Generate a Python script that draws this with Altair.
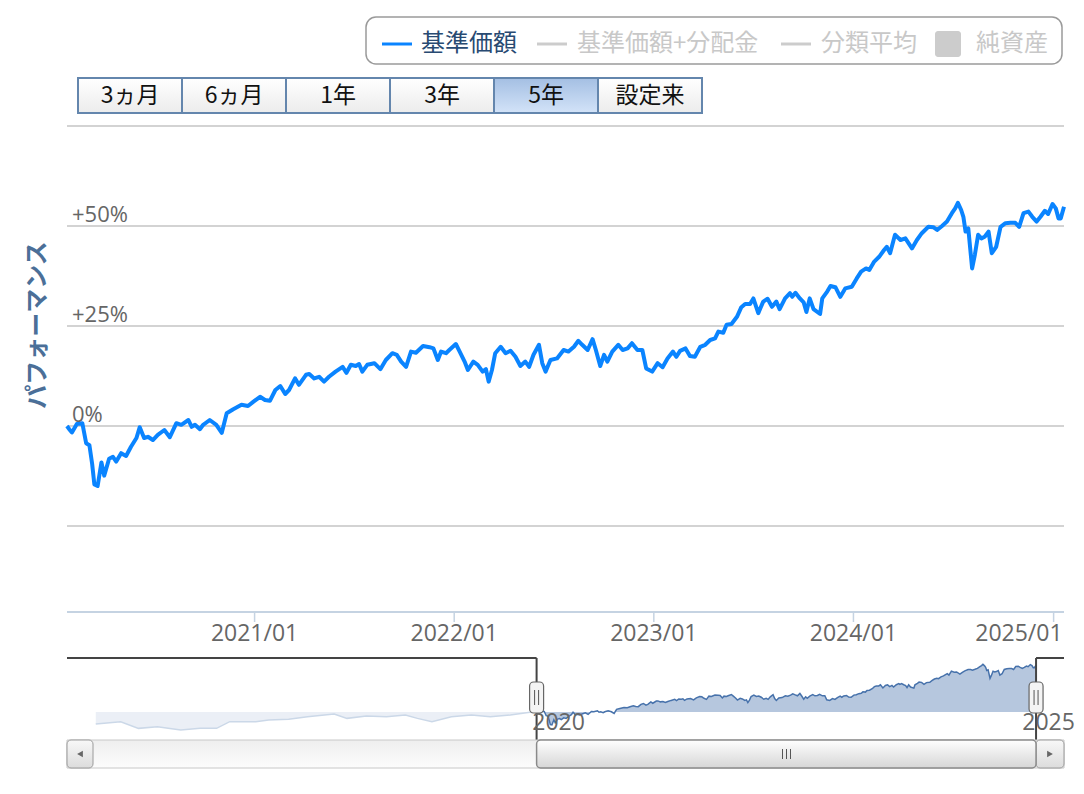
import altair as alt
import pandas as pd

# ---------------- data ----------------
main_dates = [
    "2020-01-24", "2020-01-28", "2020-02-02", "2020-02-11", "2020-02-21", "2020-02-28",
    "2020-03-05", "2020-03-10", "2020-03-14", "2020-03-20", "2020-03-27", "2020-04-01",
    "2020-04-10", "2020-04-17", "2020-04-23", "2020-05-02", "2020-05-11", "2020-05-20",
    "2020-05-30", "2020-06-05", "2020-06-13", "2020-06-20", "2020-06-29", "2020-07-08",
    "2020-07-20", "2020-07-30", "2020-08-11", "2020-08-20", "2020-09-02", "2020-09-08",
    "2020-09-14", "2020-09-23", "2020-09-29", "2020-10-11", "2020-10-23", "2020-11-02",
    "2020-11-11", "2020-11-23", "2020-12-08", "2020-12-20", "2020-12-30", "2021-01-11",
    "2021-01-20", "2021-01-29", "2021-02-08", "2021-02-17", "2021-02-26", "2021-03-05",
    "2021-03-16", "2021-03-23", "2021-04-05", "2021-04-11", "2021-04-20", "2021-04-29",
    "2021-05-08", "2021-05-17", "2021-05-29", "2021-06-11", "2021-06-18", "2021-06-26",
    "2021-07-05", "2021-07-11", "2021-07-17", "2021-07-26", "2021-08-08", "2021-08-19",
    "2021-08-29", "2021-09-10", "2021-09-18", "2021-09-26", "2021-10-05", "2021-10-14",
    "2021-10-23", "2021-11-05", "2021-11-17", "2021-11-24", "2021-12-02", "2021-12-08",
    "2021-12-17", "2021-12-23", "2022-01-04", "2022-01-11", "2022-01-20", "2022-01-26",
    "2022-02-05", "2022-02-13", "2022-02-22", "2022-02-28", "2022-03-05", "2022-03-11",
    "2022-03-17", "2022-03-27", "2022-04-05", "2022-04-14", "2022-04-23", "2022-05-02",
    "2022-05-11", "2022-05-18", "2022-05-26", "2022-06-05", "2022-06-11", "2022-06-17",
    "2022-06-26", "2022-07-08", "2022-07-20", "2022-07-29", "2022-08-08", "2022-08-16",
    "2022-08-23", "2022-09-02", "2022-09-11", "2022-09-17", "2022-09-25", "2022-10-02",
    "2022-10-08", "2022-10-17", "2022-10-28", "2022-11-05", "2022-11-14", "2022-11-22",
    "2022-12-02", "2022-12-11", "2022-12-18", "2022-12-29", "2023-01-08", "2023-01-17",
    "2023-01-26", "2023-02-05", "2023-02-11", "2023-02-18", "2023-02-28", "2023-03-08",
    "2023-03-17", "2023-03-27", "2023-04-05", "2023-04-14", "2023-04-23", "2023-04-29",
    "2023-05-08", "2023-05-14", "2023-05-23", "2023-06-02", "2023-06-10", "2023-06-17",
    "2023-06-26", "2023-07-02", "2023-07-11", "2023-07-20", "2023-07-28", "2023-08-05",
    "2023-08-13", "2023-08-19", "2023-08-29", "2023-09-07", "2023-09-11", "2023-09-17",
    "2023-09-25", "2023-10-02", "2023-10-07", "2023-10-13", "2023-10-20", "2023-11-01",
    "2023-11-05", "2023-11-14", "2023-11-20", "2023-11-29", "2023-12-08", "2023-12-17",
    "2023-12-29", "2024-01-07", "2024-01-15", "2024-01-24", "2024-01-30", "2024-02-08",
    "2024-02-17", "2024-02-26", "2024-03-02", "2024-03-08", "2024-03-17", "2024-03-27",
    "2024-04-05", "2024-04-17", "2024-04-26", "2024-05-05", "2024-05-17", "2024-05-26",
    "2024-06-02", "2024-06-11", "2024-06-20", "2024-06-29", "2024-07-05", "2024-07-10",
    "2024-07-16", "2024-07-20", "2024-07-24", "2024-07-29", "2024-08-05", "2024-08-10",
    "2024-08-16", "2024-08-22", "2024-08-28", "2024-09-04", "2024-09-10", "2024-09-18",
    "2024-09-26", "2024-10-05", "2024-10-14", "2024-10-23", "2024-10-30", "2024-11-07",
    "2024-11-16", "2024-11-23", "2024-12-01", "2024-12-08", "2024-12-16", "2024-12-22",
    "2024-12-30", "2025-01-05", "2025-01-10", "2025-01-14", "2025-01-20",
]
main_perf = [
    0.0, -0.8, -1.6, 0.5, 0.7, -4.3,
    -4.8, -9.5, -14.6, -15.0, -9.1, -12.4,
    -8.2, -7.7, -8.9, -6.8, -7.5, -5.2,
    -3.0, -0.3, -3.0, -2.7, -3.5, -2.2,
    -1.0, -2.8, 0.7, 0.3, 1.5, -0.2,
    0.3, -0.8, 0.3, 1.5, 0.3, -1.7,
    3.2, 4.2, 5.3, 5.0, 6.1, 7.3,
    6.5, 6.3, 9.0, 10.0, 8.0, 9.0,
    11.9, 10.3, 12.8, 13.0, 11.9, 12.3,
    11.1, 12.3, 13.6, 14.8, 13.3, 15.3,
    15.0, 15.5, 13.6, 15.3, 15.7, 14.2,
    16.5, 18.2, 17.8, 16.1, 14.8, 18.6,
    18.3, 20.0, 19.7, 19.4, 16.5, 18.6,
    18.2, 19.0, 20.5, 18.6, 16.1, 14.0,
    16.1, 15.3, 13.6, 14.2, 11.1, 14.0,
    18.2, 19.8, 18.2, 18.8, 17.3, 15.0,
    16.1, 14.8, 17.8, 20.3, 15.7, 13.6,
    16.5, 16.9, 19.0, 18.6, 19.8, 21.3,
    20.3, 19.0, 21.7, 19.0, 15.0, 17.8,
    16.1, 18.6, 20.3, 19.0, 19.4, 20.7,
    19.0, 19.0, 14.4, 13.6, 15.7, 14.7,
    16.9, 18.6, 17.3, 18.8, 19.4, 17.5,
    17.3, 19.8, 20.3, 21.5, 21.9, 23.6,
    23.3, 25.3, 25.5, 27.3, 29.7, 30.5,
    30.5, 31.9, 28.2, 31.1, 31.8, 29.8,
    31.1, 29.2, 31.9, 33.2, 32.3, 33.3,
    31.9, 30.9, 28.5, 31.9, 29.2, 28.0,
    31.9, 33.6, 35.0, 34.7, 32.3, 34.4,
    34.8, 36.9, 38.6, 39.4, 39.0, 41.1,
    42.3, 44.0, 44.8, 43.2, 47.8, 46.5,
    46.9, 44.4, 46.5, 48.2, 49.8, 49.7,
    49.0, 50.0, 51.1, 53.2, 54.4, 55.8,
    54.0, 52.3, 48.6, 49.4, 39.4, 42.8,
    47.8, 46.9, 47.3, 48.6, 43.2, 44.8,
    49.8, 50.7, 50.8, 50.8, 49.8, 53.2,
    53.6, 52.3, 51.1, 52.3, 53.8, 53.0,
    55.5, 54.4, 51.9, 51.9, 54.8,
]

# navigator history before the selected 5-year window (same % basis)
hist_dates = [
    "2015-08-29", "2015-11-28", "2016-02-01", "2016-04-10", "2016-07-04", "2016-09-13",
    "2016-11-12", "2016-12-30", "2017-04-04", "2017-05-21", "2017-08-02", "2017-10-10",
    "2018-01-15", "2018-03-03", "2018-05-13", "2018-07-25", "2018-10-02", "2018-11-15",
    "2019-01-07", "2019-03-19", "2019-05-31", "2019-08-08", "2019-10-20", "2020-01-13",
]
hist_perf = [
    -14.0, -11.3, -19.1, -17.2, -21.1, -19.1,
    -19.1, -11.3, -11.3, -9.4, -8.5, -5.5,
    -2.3, -7.4, -4.7, -5.5, -3.5, -7.4,
    -11.3, -5.5, -3.5, -5.5, -3.5, 0.4,
]

grid_levels = [75, 50, 25, 0, -25]
y_label_levels = [50, 25, 0]
y_label_texts = ["+50%", "+25%", "0%"]
x_tick_dates = ["2021-01-01", "2022-01-01", "2023-01-01", "2024-01-01", "2025-01-01"]
x_tick_texts = ["2021/01", "2022/01", "2023/01", "2024/01", "2025/01"]
nav_tick_dates = ["2020-01-01", "2025-01-01"]
nav_tick_texts = ["2020", "2025"]
legend_names = ["基準価額", "基準価額+分配金", "分類平均", "純資産"]
button_names = ["3ヵ月", "6ヵ月", "1年", "3年", "5年", "設定来"]
selected_button = "5年"
window_start, window_end = "2020-01-24", "2025-01-20"
nav_start, nav_end = "2015-05-16", "2025-05-02"
y_title = "パフォーマンス"

# ---------------- layout / style ----------------
W, H = 1068, 778
JP = "Noto Sans CJK JP"
LAT = "Open Sans"
BLUE = "#0a84ff"


def dt(s):
    y, m, d = (int(v) for v in s.split("-"))
    return alt.DateTime(year=y, month=m, date=d)


X_MAIN = alt.Scale(domain=[dt(window_start), dt(window_end)], range=[59, 1056], nice=False)
Y_MAIN = alt.Scale(domain=[-46.5, 75], range=[604, 118], nice=False, zero=False)
X_NAV = alt.Scale(domain=[dt(nav_start), dt(nav_end)], range=[59, 1056], nice=False)
Y_NAV = alt.Scale(domain=[-32.7, 63.2], range=[732, 650], nice=False, zero=False)

one = pd.DataFrame({"k": [0]})
main_df = pd.DataFrame({"date": main_dates, "perf": main_perf})
nav_df = pd.DataFrame({"date": hist_dates + main_dates, "perf": hist_perf + main_perf})


def grad(c0, c1):
    return alt.LinearGradient(
        gradient="linear", x1=0, x2=0, y1=0, y2=1,
        stops=[alt.GradientStop(color=c0, offset=0), alt.GradientStop(color=c1, offset=1)],
    )


layers = []

# ---- legend box ----
layers.append(
    alt.Chart(one).mark_rect(cornerRadius=10, fill="white", stroke="#9a9a9a", strokeWidth=1.5)
    .encode(x=alt.value(358), x2=alt.value(1054), y=alt.value(9), y2=alt.value(56))
)
leg_x0 = [374, 529, 773, 927]
leg_df = pd.DataFrame({
    "label": legend_names,
    "x0": leg_x0,
    "x1": [v + 30 for v in leg_x0],
    "tx": [413, 569, 813, 968],
    "sym": ["#0a84ff", "#cccccc", "#cccccc", "#cccccc"],
    "tc": ["#284a72", "#c8c8c8", "#c8c8c8", "#c8c8c8"],
    "kind": ["line", "line", "line", "box"],
})
layers.append(
    alt.Chart(leg_df).transform_filter("datum.kind == 'line'").mark_rule(strokeWidth=3)
    .encode(x=alt.X("x0:Q", scale=None, axis=None), x2="x1:Q", y=alt.value(36),
            color=alt.Color("sym:N", scale=None))
)
layers.append(
    alt.Chart(leg_df).transform_filter("datum.kind == 'box'").mark_rect(cornerRadius=3, fill="#cccccc")
    .encode(x=alt.X("x0:Q", scale=None, axis=None), x2=alt.value(953), y=alt.value(23), y2=alt.value(49))
)
layers.append(
    alt.Chart(leg_df).mark_text(align="left", baseline="middle", fontSize=24, font=JP)
    .encode(x=alt.X("tx:Q", scale=None, axis=None), y=alt.value(36), text="label:N",
            color=alt.Color("tc:N", scale=None))
)

# ---- range buttons ----
btn_df = pd.DataFrame({
    "label": button_names,
    "x0": [70 + 104 * i for i in range(len(button_names))],
    "x1": [174 + 104 * i for i in range(len(button_names))],
    "xc": [122 + 104 * i for i in range(len(button_names))],
    "sel": [n == selected_button for n in button_names],
})
layers.append(
    alt.Chart(btn_df).transform_filter("!datum.sel")
    .mark_rect(fill=grad("#ffffff", "#ececec"), stroke="#6486ad", strokeWidth=2)
    .encode(x=alt.X("x0:Q", scale=None, axis=None), x2="x1:Q", y=alt.value(70), y2=alt.value(105))
)
layers.append(
    alt.Chart(btn_df).transform_filter("datum.sel")
    .mark_rect(fill=grad("#a4bfe3", "#d3e3f8"), stroke="#6486ad", strokeWidth=2)
    .encode(x=alt.X("x0:Q", scale=None, axis=None), x2="x1:Q", y=alt.value(70), y2=alt.value(105))
)
layers.append(
    alt.Chart(btn_df).mark_text(align="center", baseline="middle", fontSize=23, font=JP, color="#111111")
    .encode(x=alt.X("xc:Q", scale=None, axis=None), y=alt.value(88), text="label:N")
)

# ---- main plot ----
layers.append(
    alt.Chart(pd.DataFrame({"v": grid_levels})).mark_rule(color="#c4c4c4", strokeWidth=1.5)
    .encode(y=alt.Y("v:Q", scale=Y_MAIN, axis=None), x=alt.value(59), x2=alt.value(1056))
)
layers.append(
    alt.Chart(one).mark_rule(color="#c5d3e2", strokeWidth=2)
    .encode(x=alt.value(59), x2=alt.value(1056), y=alt.value(604))
)
layers.append(
    alt.Chart(pd.DataFrame({"d": x_tick_dates})).mark_rule(color="#c5d3e2", strokeWidth=1.5)
    .encode(x=alt.X("d:T", scale=X_MAIN, axis=None), y=alt.value(604), y2=alt.value(614))
)
xlab_df = pd.DataFrame({"d": x_tick_dates, "t": x_tick_texts,
                        "last": [i == len(x_tick_dates) - 1 for i in range(len(x_tick_dates))]})
layers.append(
    alt.Chart(xlab_df).transform_filter("!datum.last")
    .mark_text(align="center", baseline="alphabetic", fontSize=23, font=LAT, color="#666666")
    .encode(x=alt.X("d:T", scale=X_MAIN, axis=None), y=alt.value(633), text="t:N")
)
layers.append(
    alt.Chart(xlab_df).transform_filter("datum.last")
    .mark_text(align="right", baseline="alphabetic", dx=9, fontSize=23, font=LAT, color="#666666")
    .encode(x=alt.X("d:T", scale=X_MAIN, axis=None), y=alt.value(633), text="t:N")
)
layers.append(
    alt.Chart(main_df).mark_line(color=BLUE, strokeWidth=4, strokeJoin="round")
    .encode(x=alt.X("date:T", scale=X_MAIN, axis=None), y=alt.Y("perf:Q", scale=Y_MAIN, axis=None))
)
layers.append(
    alt.Chart(pd.DataFrame({"v": y_label_levels, "t": y_label_texts}))
    .mark_text(align="left", baseline="alphabetic", dy=-4, fontSize=22, font=LAT, color="#666666")
    .encode(x=alt.value(64), y=alt.Y("v:Q", scale=Y_MAIN, axis=None), text="t:N")
)
layers.append(
    alt.Chart(one).mark_text(angle=270, align="center", baseline="middle", fontSize=24,
                             fontWeight="bold", font=JP, color="#4b6f98")
    .encode(x=alt.value(30), y=alt.value(317), text=alt.value(y_title))
)

# ---- navigator ----
layers.append(
    alt.Chart(nav_df).mark_area(color="#b6c7de")
    .encode(x=alt.X("date:T", scale=X_NAV, axis=None), y=alt.Y("perf:Q", scale=Y_NAV, axis=None),
            y2=alt.value(732))
)
layers.append(
    alt.Chart(nav_df).mark_line(color="#4772ab", strokeWidth=1.5)
    .encode(x=alt.X("date:T", scale=X_NAV, axis=None), y=alt.Y("perf:Q", scale=Y_NAV, axis=None))
)
mask_df = pd.DataFrame({"a": [nav_start, window_end], "b": [window_start, nav_end]})
layers.append(
    alt.Chart(mask_df).mark_rect(fill="white", opacity=0.72)
    .encode(x=alt.X("a:T", scale=X_NAV, axis=None), x2="b:T", y=alt.value(650), y2=alt.value(732))
)
layers.append(
    alt.Chart(mask_df).mark_rule(color="#444444", strokeWidth=2)
    .encode(x=alt.X("a:T", scale=X_NAV, axis=None), x2="b:T", y=alt.value(650))
)
edge_df = pd.DataFrame({"d": [window_start, window_end]})
layers.append(
    alt.Chart(edge_df).mark_rule(color="#444444", strokeWidth=2)
    .encode(x=alt.X("d:T", scale=X_NAV, axis=None), y=alt.value(650), y2=alt.value(732))
)
navlab_df = pd.DataFrame({"d": nav_tick_dates, "t": nav_tick_texts,
                          "last": [i == len(nav_tick_dates) - 1 for i in range(len(nav_tick_dates))]})
layers.append(
    alt.Chart(navlab_df).transform_filter("!datum.last")
    .mark_text(align="left", baseline="alphabetic", dx=2, fontSize=23, font=LAT, color="#666666")
    .encode(x=alt.X("d:T", scale=X_NAV, axis=None), y=alt.value(722), text="t:N")
)
layers.append(
    alt.Chart(navlab_df).transform_filter("datum.last")
    .mark_text(align="right", baseline="alphabetic", dx=44, fontSize=23, font=LAT, color="#666666")
    .encode(x=alt.X("d:T", scale=X_NAV, axis=None), y=alt.value(722), text="t:N")
)
layers.append(
    alt.Chart(edge_df).mark_rect(xOffset=-7, x2Offset=7, cornerRadius=4, fill="#f4f4f4",
                                 stroke="#666666", strokeWidth=1.2)
    .encode(x=alt.X("d:T", scale=X_NAV, axis=None), x2="d:T", y=alt.value(674), y2=alt.value(705))
)
for off in (-2, 2):
    layers.append(
        alt.Chart(edge_df).mark_rule(xOffset=off, color="#555555", strokeWidth=1)
        .encode(x=alt.X("d:T", scale=X_NAV, axis=None), y=alt.value(682), y2=alt.value(697))
    )

# ---- scrollbar ----
layers.append(
    alt.Chart(one).mark_rect(fill=grad("#eeeeee", "#fcfcfc"), stroke="#c8c8c8", strokeWidth=1)
    .encode(x=alt.value(59), x2=alt.value(1056), y=alt.value(732), y2=alt.value(760))
)
for bx0, bx1 in ((59, 85), (1028, 1056)):
    layers.append(
        alt.Chart(one).mark_rect(fill=grad("#f8f8f8", "#dcdcdc"), stroke="#9a9a9a", strokeWidth=1,
                                 cornerRadius=4)
        .encode(x=alt.value(bx0), x2=alt.value(bx1), y=alt.value(732), y2=alt.value(760))
    )
layers.append(
    alt.Chart(one).mark_point(shape="triangle-left", size=45, filled=True, color="#666666", opacity=1)
    .encode(x=alt.value(72), y=alt.value(746))
)
layers.append(
    alt.Chart(one).mark_point(shape="triangle-right", size=45, filled=True, color="#666666", opacity=1)
    .encode(x=alt.value(1042), y=alt.value(746))
)
thumb_df = pd.DataFrame({"a": [window_start], "b": [window_end]})
layers.append(
    alt.Chart(thumb_df).mark_rect(fill=grad("#ffffff", "#d6d6d6"), stroke="#8a8a8a", strokeWidth=1.5,
                                  cornerRadius=4)
    .encode(x=alt.X("a:T", scale=X_NAV, axis=None), x2="b:T", y=alt.value(732), y2=alt.value(760))
)
for gx in (774.5, 778.5, 782.5):
    layers.append(
        alt.Chart(one).mark_rule(color="#555555", strokeWidth=1)
        .encode(x=alt.value(gx), y=alt.value(741), y2=alt.value(751))
    )

chart = (
    alt.layer(*layers)
    .resolve_scale(x="independent", y="independent", color="independent")
    .properties(width=W, height=H, padding=0, autosize=alt.AutoSizeParams(type="none"),
                background="white")
    .configure_view(stroke=None)
)

chart.save("out.html", embed_options={"renderer": "svg", "actions": False})
